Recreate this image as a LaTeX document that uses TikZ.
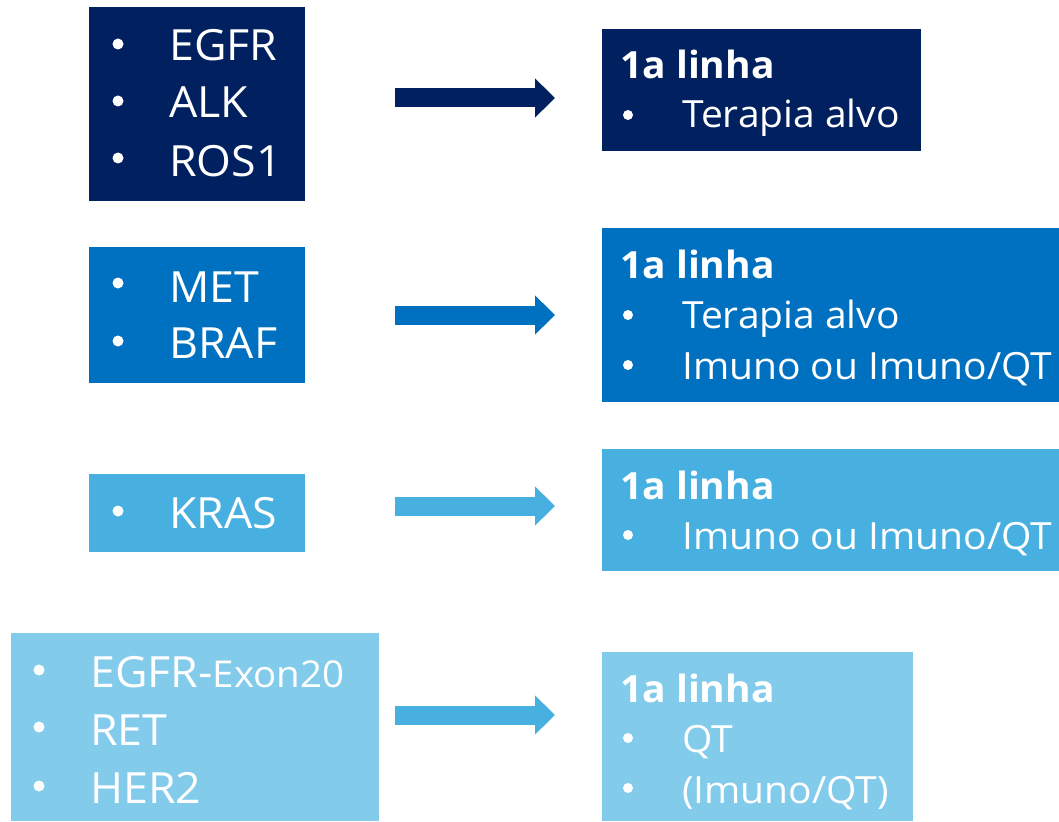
\documentclass[tikz,border=0pt]{standalone}
\usepackage{fontspec}
\setmainfont{Open Sans}[FakeStretch=1.04]
\usetikzlibrary{arrows.meta}
\definecolor{cnavy}{HTML}{002060}
\definecolor{cblue}{HTML}{0070C0}
\definecolor{clight}{HTML}{47B0E0}
\definecolor{cpale}{HTML}{83CBEB}
\tikzset{
  box/.style={draw=none, inner sep=0pt, outer sep=0pt, anchor=north west},
  big/.style={font=\fontsize{43}{50}\selectfont, text=white, anchor=base west, inner sep=0pt},
  small/.style={font=\fontsize{37.5}{44}\selectfont, text=white, anchor=base west, inner sep=0pt},
  head/.style={font=\bfseries\fontsize{37.5}{44}\selectfont, text=white, anchor=base west, inner sep=0pt},
  dotb/.style={circle, fill=white, inner sep=0pt, minimum size=11pt},
  dots/.style={circle, fill=white, inner sep=0pt, minimum size=10pt},
  blockarrow/.style={line width=19pt, -{Triangle[length=20pt,width=38pt]}}
}
\begin{document}
\begin{tikzpicture}[x=1pt,y=-1pt]
\useasboundingbox (0,0) rectangle (1059,821);
% boxes
\node[box, fill=cnavy, minimum width=216pt, minimum height=194pt] (L1) at (89,7) {};
\node[box, fill=cnavy, minimum width=319pt, minimum height=122pt] (R1) at (602,29) {};
\node[box, fill=cblue, minimum width=216pt, minimum height=136pt] (L2) at (89,247) {};
\node[box, fill=cblue, minimum width=457pt, minimum height=174pt] (R2) at (602,228) {};
\node[box, fill=clight, minimum width=216pt, minimum height=78pt] (L3) at (89,474) {};
\node[box, fill=clight, minimum width=457pt, minimum height=122pt] (R3) at (602,449) {};
\node[box, fill=cpale, minimum width=368pt, minimum height=188pt] (L4) at (11,633) {};
\node[box, fill=cpale, minimum width=311pt, minimum height=169pt] (R4) at (602,652) {};
% row 1 left
\node[dotb] (b11) at (118,44) {};
\node[dotb] (b12) at (118,101) {};
\node[dotb] (b13) at (118,158) {};
\node[big] (t11) at (169,61) {EGFR};
\node[big] (t12) at (169,118) {ALK};
\node[big] (t13) at (169,176) {ROS1};
% row 1 right
\node[head] (h1) at (620,79) {1a linha};
\node[dots] (c11) at (628,115) {};
\node[small] (s11) at (682,128) {Terapia alvo};
% row 2 left
\node[dotb] (b21) at (118,283) {};
\node[dotb] (b22) at (118,341) {};
\node[big] (t21) at (169,302) {MET};
\node[big] (t22) at (169,358) {BRAF};
% row 2 right
\node[head] (h2) at (620,278) {1a linha};
\node[dots] (c21) at (628,315) {};
\node[dots] (c22) at (628,365) {};
\node[small] (s21) at (682,328) {Terapia alvo};
\node[small] (s22) at (682,379) {Imuno ou Imuno/QT};
% row 3 left
\node[dotb] (b31) at (118,511) {};
\node[big] (t31) at (169,528) {KRAS};
% row 3 right
\node[head] (h3) at (620,499) {1a linha};
\node[dots] (c31) at (628,535) {};
\node[small] (s31) at (682,549) {Imuno ou Imuno/QT};
% row 4 left
\node[dotb] (b41) at (39,670) {};
\node[dotb] (b42) at (39,727) {};
\node[dotb] (b43) at (39,786) {};
\node[big] (t41) at (90,687) {EGFR-{\fontsize{37}{44}\selectfont Exon20}};
\node[big] (t42) at (90,745) {RET};
\node[big] (t43) at (90,803) {HER2};
% row 4 right
\node[head] (h4) at (620,702) {1a linha};
\node[dots] (c41) at (628,738) {};
\node[dots] (c42) at (628,788) {};
\node[small] (s41) at (682,752) {QT};
\node[small] (s42) at (682,803) {(Imuno/QT)};
% arrows
\coordinate (a1s) at (395,98);  \coordinate (a1e) at (555,98);
\coordinate (a2s) at (395,315); \coordinate (a2e) at (555,315);
\coordinate (a3s) at (395,506); \coordinate (a3e) at (555,506);
\coordinate (a4s) at (395,715); \coordinate (a4e) at (555,715);
\draw[blockarrow, cnavy] (a1s) -- (a1e);
\draw[blockarrow, cblue] (a2s) -- (a2e);
\draw[blockarrow, clight] (a3s) -- (a3e);
\draw[blockarrow, clight] (a4s) -- (a4e);
\end{tikzpicture}
\end{document}
